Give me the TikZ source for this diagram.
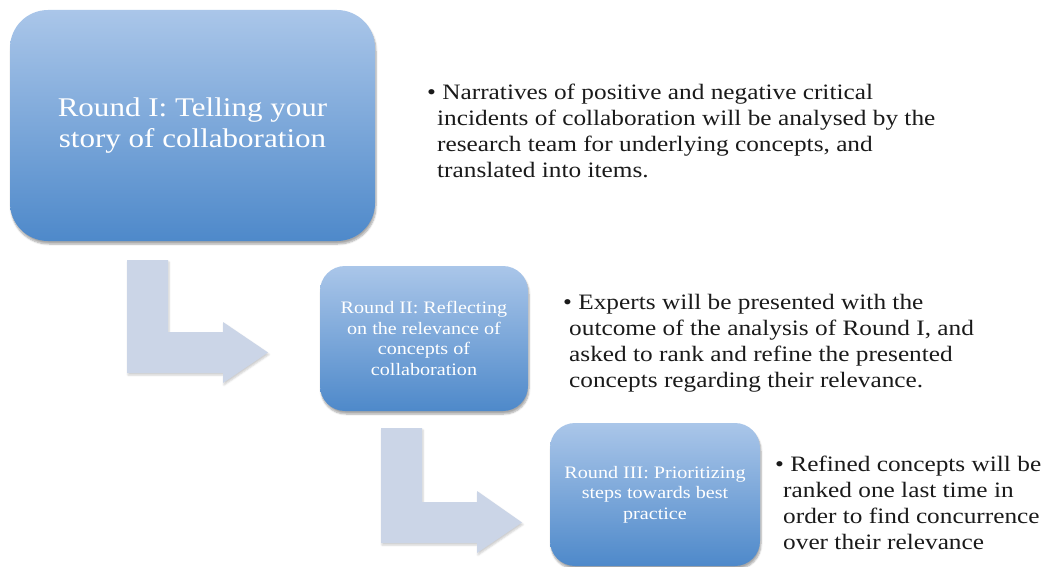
\documentclass[tikz,border=0pt]{standalone}
\usepackage{fontspec}
\setmainfont[FakeStretch=1.15]{Liberation Serif}
\usetikzlibrary{shadows.blur}

\definecolor{roundtop}{RGB}{170,198,233}
\definecolor{roundbot}{RGB}{78,137,202}
\definecolor{bendgray}{RGB}{203,213,231}
\definecolor{notetext}{RGB}{26,26,26}

\tikzset{
  roundbox/.style={rounded corners=#1, top color=roundtop, bottom color=roundbot,
    draw=none, text=white, align=center, inner sep=0pt,
    blur shadow={shadow xshift=1pt, shadow yshift=-3pt, shadow blur steps=6, shadow opacity=35}},
  bendarrow/.style={fill=bendgray, draw=none,
    blur shadow={shadow xshift=1pt, shadow yshift=-2pt, shadow blur steps=4, shadow opacity=20}},
  note/.style={anchor=base west, align=left, inner sep=0pt, text=notetext,
    font=\fontsize{22}{25.7}\selectfont}
}

\begin{document}
\begin{tikzpicture}[x=1pt,y=-1pt]
        \useasboundingbox (0,0) rectangle (1052,567);
        % Rounds
        \node[roundbox=38pt, minimum width=365pt, minimum height=231pt,
              font=\fontsize{27}{31}\selectfont] (round1) at (192.5,125.5)
              {Round I: Telling your\\story of collaboration};
        \node[roundbox=25pt, minimum width=208pt, minimum height=145pt,
              font=\fontsize{17.5}{20.5}\selectfont] (round2) at (424,338.5)
              {Round II: Reflecting\\on the relevance of\\concepts of\\collaboration};
        \node[roundbox=25pt, minimum width=210pt, minimum height=143pt,
              font=\fontsize{17.5}{20.5}\selectfont] (round3) at (655,494.5)
              {Round III: Prioritizing\\steps towards best\\practice};
        
        % Bent arrows
        \fill[bendarrow] (127,260) -- (168,260) -- (168,332) -- (223,332) -- (223,322)
              -- (268,352.5) -- (223,383) -- (223,373) -- (127,373) -- cycle;
        \fill[bendarrow] (381,428) -- (422,428) -- (422,502) -- (477,502) -- (477,491)
              -- (522,522.5) -- (477,553) -- (477,543) -- (381,543) -- cycle;
        
        % Notes (anchored at the baseline of their last line)
        \node[note] (note1) at (427,177)
              {\textbullet\ Narratives of positive and negative critical\\
               \hspace*{10pt}incidents of collaboration will be analysed by the\\
               \hspace*{10pt}research team for underlying concepts, and\\
               \hspace*{10pt}translated into items.};
        \node[note] (note2) at (563,387)
              {\textbullet\ Experts will be presented with the\\
               \hspace*{6pt}outcome of the analysis of Round I, and\\
               \hspace*{6pt}asked to rank and refine the presented\\
               \hspace*{6pt}concepts regarding their relevance.};
        \node[note] (note3) at (775,549)
              {\textbullet\ Refined concepts will be\\
               \hspace*{8pt}ranked one last time in\\
               \hspace*{8pt}order to find concurrence\\
               \hspace*{8pt}over their relevance};
        
    \end{tikzpicture}
\end{document}
